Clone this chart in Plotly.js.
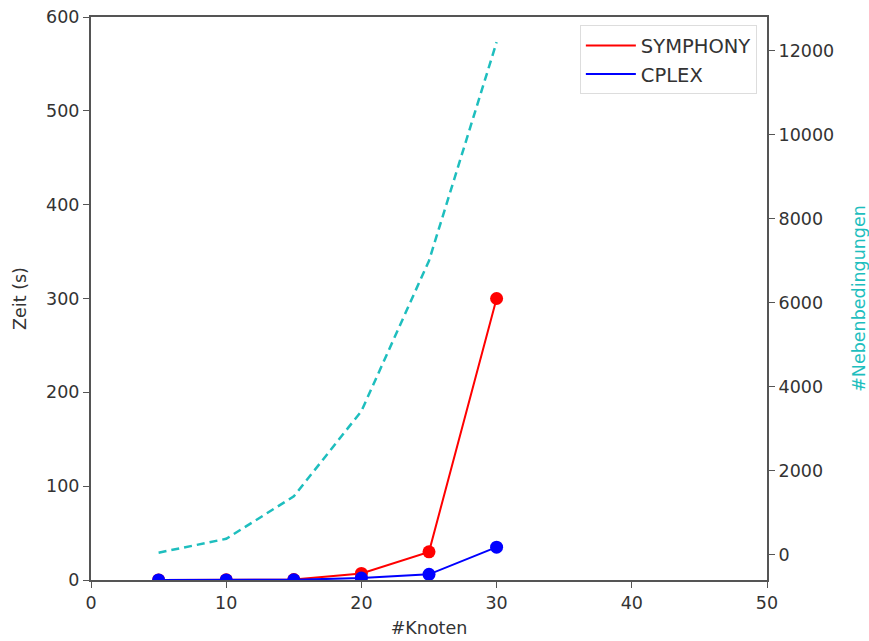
<!DOCTYPE html>
<html>
<head>
<meta charset="utf-8">
<script src="https://cdn.plot.ly/plotly-3.0.1.min.js"></script>
<style>html,body{margin:0;padding:0;background:#fff;}</style>
</head>
<body>
<div id="chart" style="width:869px;height:641px;"></div>
<script>
const knoten = [5, 10, 15, 20, 25, 30];
const symphony = [0.1, 0.2, 0.5, 7, 30, 300];
const cplex = [0.05, 0.1, 0.2, 2, 6, 35];
const nebenbedingungen = [50, 380, 1390, 3420, 7000, 12200];

const font = {family: 'DejaVu Sans', size: 17.5, color: '#333'};

const traces = [
  {x: knoten, y: nebenbedingungen, yaxis: 'y2', mode: 'lines', name: '#Nebenbedingungen',
   line: {color: 'rgb(30,190,190)', width: 2.5, dash: '8px,5px'}, showlegend: false},
  {x: knoten, y: symphony, mode: 'lines', name: 'SYMPHONY', line: {color: '#ff0000', width: 2}},
  {x: knoten, y: symphony, mode: 'markers', showlegend: false, marker: {color: '#ff0000', size: 13}},
  {x: knoten, y: cplex, mode: 'lines', name: 'CPLEX', line: {color: '#0000ff', width: 2}},
  {x: knoten, y: cplex, mode: 'markers', showlegend: false, marker: {color: '#0000ff', size: 13}}
];

const layout = {
  width: 869, height: 641,
  margin: {l: 91, r: 102, t: 17, b: 61},
  paper_bgcolor: '#fff', plot_bgcolor: '#fff',
  font: font,
  showlegend: true,
  legend: {x: 0.985, xanchor: 'right', y: 0.985, yanchor: 'top',
           bgcolor: '#fff', bordercolor: '#ddd', borderwidth: 1, itemwidth: 50,
           font: {family: 'DejaVu Sans', size: 19.5, color: '#333'}},
  xaxis: {range: [0, 50], tickvals: [0, 10, 20, 30, 40, 50], showgrid: false, zeroline: false,
          showline: true, linecolor: '#555', linewidth: 2, mirror: true,
          ticks: 'outside', ticklen: 6, tickcolor: '#555', tickfont: font,
          title: {text: '#Knoten', font: font, standoff: 10}},
  yaxis: {range: [0, 600], tickvals: [0, 100, 200, 300, 400, 500, 600], showgrid: false, zeroline: false,
          showline: true, linecolor: '#555', linewidth: 2,
          ticks: 'outside', ticklen: 6, tickcolor: '#555', tickfont: font,
          title: {text: 'Zeit (s)', font: font, standoff: 15}},
  yaxis2: {overlaying: 'y', side: 'right', range: [-600, 12800], tickformat: 'd',
           tickvals: [0, 2000, 4000, 6000, 8000, 10000, 12000], showgrid: false, zeroline: false,
           showline: true, linecolor: '#555', linewidth: 2,
           ticks: 'outside', ticklen: 6, tickcolor: '#555', tickfont: font,
           title: {text: '#Nebenbedingungen', font: {family: 'DejaVu Sans', size: 17.5, color: 'rgb(30,190,190)'}, standoff: 22}}
};

Plotly.newPlot('chart', traces, layout, {displayModeBar: false, staticPlot: true});
</script>
</body>
</html>
